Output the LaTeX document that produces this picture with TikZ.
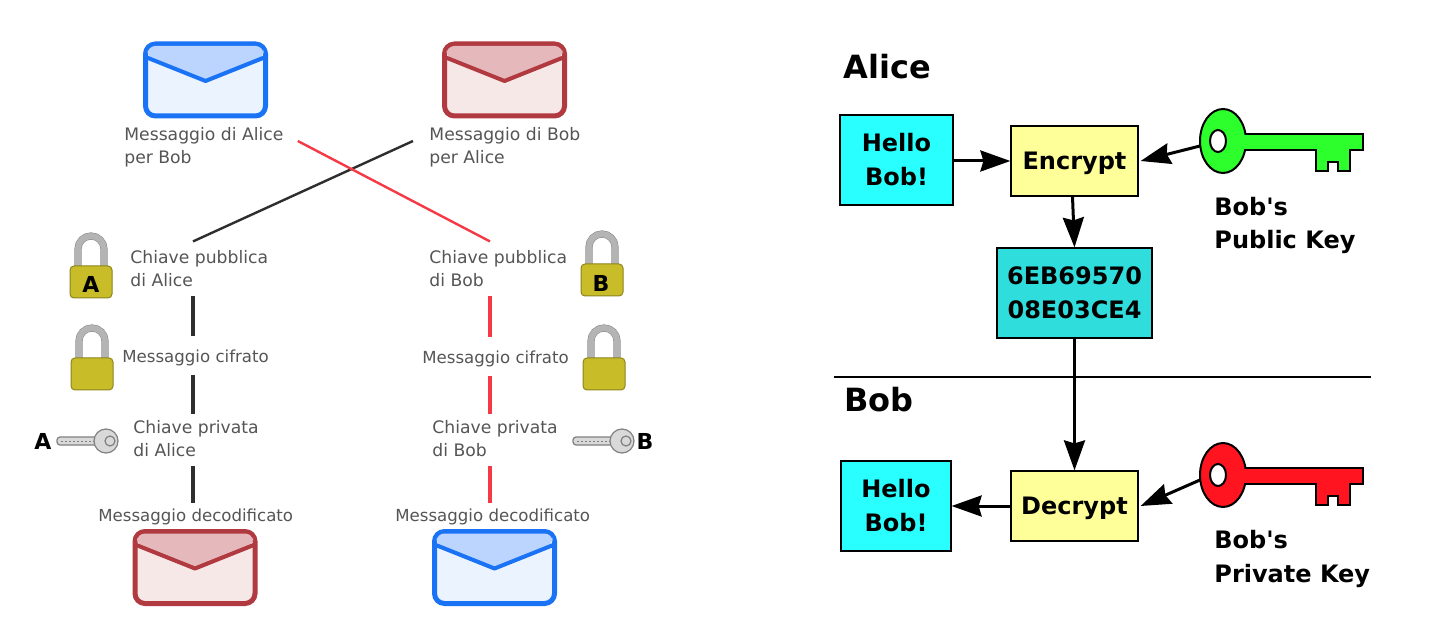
\documentclass[tikz,border=0pt]{standalone}
\usepackage{fontspec}
\setmainfont{DejaVu Sans}
\newfontfamily\plainfont{DejaVu Sans}
\usepackage{xcolor}
\usetikzlibrary{arrows.meta, positioning, calc}
\definecolor{mailblue}{HTML}{1A73F5}
\definecolor{mailbluefill}{HTML}{EBF3FF}
\definecolor{mailblueflap}{HTML}{BBD5FF}
\definecolor{mailred}{HTML}{B03A40}
\definecolor{mailredfill}{HTML}{F7E8E8}
\definecolor{mailredflap}{HTML}{E5B9BB}
\definecolor{lockgold}{HTML}{C8BC28}
\definecolor{lockgray}{HTML}{B4B4B4}
\definecolor{textgray}{HTML}{555555}
\definecolor{linered}{HTML}{F53A46}
\definecolor{linedark}{HTML}{2E2E2E}
\definecolor{msgcyan}{HTML}{2AFFFF}
\definecolor{ciphercyan}{HTML}{30DDDD}
\definecolor{boxyellow}{HTML}{FFFF99}
\definecolor{keygreen}{HTML}{2CFF2C}
\definecolor{keyred}{HTML}{FF1420}

\tikzset{
  pics/envelope/.style n args={3}{code={
    \draw[draw=#1, fill=#2, line width=2.5pt, rounded corners=5pt] (-60,-36) rectangle (60,36);
    \fill[#3, rounded corners=4pt] (-58,-22) -- (-58,-34) -- (58,-34) -- (58,-22) -- (0,1) -- cycle;
    \draw[draw=#1, line width=2pt, line join=round] (-60,-23) -- (0,1) -- (60,-23);
  }},
  pics/padlock/.style={code={
    \draw[draw=black!45, line width=3.6pt] (-13,2) -- (-13,-17) arc[start angle=180, end angle=0, x radius=13, y radius=-13] -- (13,2);
    \draw[draw=lockgray, line width=3pt] (-13,2) -- (-13,-17) arc[start angle=180, end angle=0, x radius=13, y radius=-13] -- (13,2);
    \draw[draw=lockgold!70!black, fill=lockgold, line width=.5pt, rounded corners=2pt] (-21,0) rectangle (21,32);
  }},
  pics/bigkey/.style={code={
    \draw[draw=black, fill=#1, line width=1pt, line join=miter] (15,-7) -- (140,-7) -- (140,9) -- (127,9) -- (127,30) -- (115,30) -- (115,21) -- (105,21) -- (105,30) -- (93,30) -- (93,9) -- (15,9) -- cycle;
    \draw[draw=black, fill=#1, line width=1pt] (0,0) ellipse[x radius=23, y radius=32];
    \fill[#1] (14,-6) rectangle (26,8);
    \draw[draw=black, fill=white, line width=1pt] (-5,0) ellipse[x radius=8, y radius=11];
  }},
  pics/smallkey/.style={code={
    \draw[draw=black!50, fill=black!15, line width=.6pt, rounded corners=1.5pt] (0,-4) rectangle (40,4);
    \draw[draw=black!50, line width=.5pt, dash pattern=on 1pt off 1pt] (4,0) -- (38,0);
    \draw[draw=black!50, fill=black!15, line width=.6pt] (49,0) circle[radius=12];
    \draw[draw=black!50, line width=.6pt] (53,0) circle[radius=5];
  }}
}

\begin{document}
\begin{tikzpicture}[
    x=0.5pt, y=-0.5pt,
    note/.style={font=\fontsize{8.3}{11.5}\selectfont, text=textgray, align=left, inner xsep=0pt, inner ysep=3pt},
    notewide/.style={note, font=\fontsize{8.6}{11.5}\selectfont},
    link/.style={line width=1.2pt, color=linedark},
    linkred/.style={line width=1.2pt, color=linered},
    stem/.style={line width=1.6pt, color=linedark, shorten <=1.2pt},
    stemred/.style={line width=1.6pt, color=linered, shorten <=1.2pt},
    mark letter/.style={font=\bfseries\fontsize{11}{13}\selectfont, text=black, inner sep=0pt},
    msgbox/.style={draw=black, fill=#1, line width=.6pt, inner sep=0pt, align=center, font=\bfseries\fontsize{12}{17}\selectfont},
    title/.style={font=\bfseries\fontsize{16}{20}\selectfont, anchor=west, inner sep=0pt},
    caption/.style={font=\plainfont\bfseries\fontsize{12}{16.8}\selectfont, anchor=west, align=left, inner sep=0pt},
    arrow/.style={-{Stealth[length=15pt, width=10.5pt, inset=1.5pt]}, line width=1.5pt, color=black}
]
\useasboundingbox (0,0) rectangle (1434,630);
\fill[white] (0,0) rectangle (1434,630);

% Left: envelopes
\pic at (205.5,80) {envelope={mailblue}{mailbluefill}{mailblueflap}};
\pic at (504.5,80) {envelope={mailred}{mailredfill}{mailredflap}};
\pic at (195,567.5) {envelope={mailred}{mailredfill}{mailredflap}};
\pic at (494.5,567.5) {envelope={mailblue}{mailbluefill}{mailblueflap}};

% Left: padlocks
\pic at (91,266) {padlock};
\node[mark letter] (markA) at (91,284) {A};
\pic at (602,264) {padlock};
\node[mark letter] (markB) at (601,283) {B};
\pic at (92,358) {padlock};
\pic at (604,358) {padlock};

% Left: small keys
\node[mark letter] (keyA) at (43,441) {A};
\pic at (57,441) {smallkey};
\node[mark letter] (keyB) at (645,441) {B};
\pic at (573,441) {smallkey};

% Left: texts
\node[notewide, anchor=west] (msgalice) at (124,147) {Messaggio di Alice\\per Bob};
\node[notewide, anchor=west] (msgbob) at (429,147) {Messaggio di Bob\\per Alice};
\node[notewide, anchor=west] (pubalice) at (130,269) {Chiave pubblica\\di Alice};
\node[notewide, anchor=west] (pubbob) at (429,269) {Chiave pubblica\\di Bob};
\node[note, anchor=west] (cifalice) at (122,358) {Messaggio cifrato};
\node[note, anchor=west] (cifbob) at (422,359) {Messaggio cifrato};
\node[notewide, anchor=west] (privalice) at (133,439) {Chiave privata\\di Alice};
\node[notewide, anchor=west] (privbob) at (432,439) {Chiave privata\\di Bob};
\node[note, anchor=west] (decalice) at (98,517) {Messaggio decodificato};
\node[note, anchor=west] (decbob) at (395,517) {Messaggio decodificato};

% Left: connectors
\coordinate (colA) at (193,0);
\coordinate (colB) at (490,0);
\draw[link] ([xshift=-8pt,yshift=3pt]msgbob.west) -- ([yshift=1.5pt]pubalice.north -| colA);
\draw[linkred] ([xshift=7pt,yshift=3pt]msgalice.east) -- ([yshift=1.5pt]pubbob.north -| colB);
\draw[stem, shorten >=4pt] (pubalice.south -| colA) -- (cifalice.north -| colA);
\draw[stem] (cifalice.south -| colA) -- (privalice.north -| colA);
\draw[stem] (privalice.south -| colA) -- (decalice.north -| colA);
\draw[stemred, shorten >=4pt] (pubbob.south -| colB) -- (cifbob.north -| colB);
\draw[stemred] (cifbob.south -| colB) -- (privbob.north -| colB);
\draw[stemred] (privbob.south -| colB) -- (decbob.north -| colB);

% Right: Alice
\node[title] (alice) at (843,67) {Alice};
\node[msgbox=msgcyan, minimum width=56.5pt, minimum height=45pt] (hellotop) at (896.5,160) {Hello\\Bob!};
\node[msgbox=boxyellow, minimum width=63.5pt, minimum height=35pt, text depth=0pt] (encrypt) at (1074.5,161) {Encrypt};
\node[msgbox=ciphercyan, minimum width=77.5pt, minimum height=45pt] (cipher) at (1074.5,293) {6EB69570\\08E03CE4};
\pic (pubkey) at (1223,141) {bigkey=keygreen};
\coordinate (pubkeyend) at (1200,146);
\node[caption] (pubtext) at (1214,225.5) {Bob's\\Public Key};

% Divider
\coordinate (divleft) at (834,377);
\coordinate (divright) at (1371,377);
\draw[line width=.8pt] (divleft) -- (divright);

% Right: Bob
\node[title] (bob) at (844,400) {Bob};
\node[msgbox=msgcyan, minimum width=55pt, minimum height=45pt] (hellobottom) at (896,506) {Hello\\Bob!};
\node[msgbox=boxyellow, minimum width=63.5pt, minimum height=35pt, text depth=0pt] (decrypt) at (1074.5,506) {Decrypt};
\pic (privkey) at (1223,475) {bigkey=keyred};
\coordinate (privkeyend) at (1200,480);
\node[caption] (privtext) at (1214,559) {Bob's\\Private Key};

% Arrows
\draw[arrow] (hellotop.east |- encrypt) -- (encrypt.west);
\draw[arrow] (pubkeyend) -- ([xshift=1pt]encrypt.east);
\draw[arrow] ([xshift=-1pt]encrypt.south) -- (cipher.north);
\draw[arrow] (cipher.south) -- (decrypt.north);
\draw[arrow] (decrypt.west) -- (hellobottom.east);
\draw[arrow] (privkeyend) -- ([xshift=1pt]decrypt.east);

\end{tikzpicture}
\end{document}
